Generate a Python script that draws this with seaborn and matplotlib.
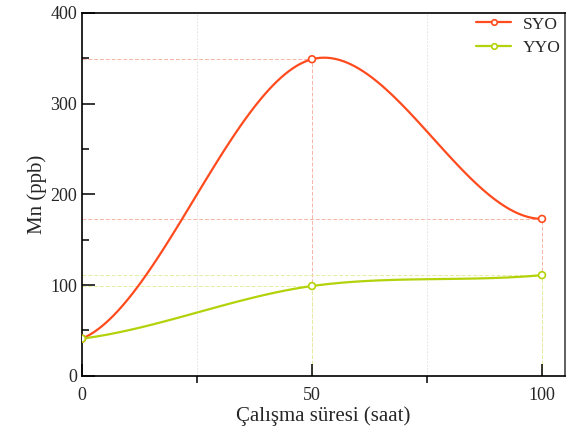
import numpy as np
import pandas as pd
import seaborn as sns
import matplotlib
matplotlib.use("Agg")
import matplotlib.pyplot as plt
from matplotlib.ticker import MultipleLocator

# measured values
hours = [0, 50, 100]
syo = [41, 349, 173]
yyo = [41, 99, 111]
series_names = ["SYO", "YYO"]
colors = {"SYO": "#FF4B1E", "YYO": "#B4D20A"}
drop_colors = {"SYO": "#F7B3A6", "YYO": "#E4EEA0"}


def smooth(x, y, n=60):
    # cubic hermite curve through the points (like origin spline connect)
    x = np.asarray(x, float)
    y = np.asarray(y, float)
    sec = np.diff(y) / np.diff(x)
    m = np.zeros_like(y)
    m[1:-1] = (y[2:] - y[:-2]) / (x[2:] - x[:-2])
    m[0] = 0.22 * sec[0] + 0.58 * m[1]
    m[-1] = 0.22 * sec[-1] + 0.58 * m[-2]
    xs, ys = [], []
    for i in range(len(x) - 1):
        h = x[i + 1] - x[i]
        t = np.linspace(0, 1, n)
        h00 = 2 * t**3 - 3 * t**2 + 1
        h10 = t**3 - 2 * t**2 + t
        h01 = -2 * t**3 + 3 * t**2
        h11 = t**3 - t**2
        xs.append(x[i] + t * h)
        ys.append(h00 * y[i] + h10 * h * m[i] + h01 * y[i + 1] + h11 * h * m[i + 1])
    return np.concatenate(xs), np.concatenate(ys)


df = pd.DataFrame({"hours": hours, "SYO": syo, "YYO": yyo})
long_df = df.melt(id_vars="hours", var_name="series", value_name="mn")

sns.set_style("ticks")
plt.rcParams["font.family"] = ["Liberation Serif", "DejaVu Serif"]

fig, ax = plt.subplots(figsize=(5.71, 4.32), dpi=100)
fig.subplots_adjust(left=0.1436, right=0.9895, top=0.97, bottom=0.13)

# drop lines to the axes
for name in series_names:
    for xv, yv in zip(df["hours"], df[name]):
        if xv == 0:
            continue
        ax.plot([0, xv], [yv, yv], ls=(0, (4, 2)), lw=0.7, color=drop_colors[name], zorder=0.5)
        ax.plot([xv, xv], [0, yv], ls=(0, (4, 2)), lw=0.7, color=drop_colors[name], zorder=0.5)

for name in series_names:
    xs, ys = smooth(df["hours"], df[name])
    sns.lineplot(x=xs, y=ys, ax=ax, color=colors[name], lw=1.6, zorder=3)

sns.scatterplot(data=long_df, x="hours", y="mn", hue="series", palette=colors,
                ax=ax, s=24, marker="o", linewidth=1.2, legend=False, zorder=4)
for coll in ax.collections:
    coll.set_facecolor("white")
    coll.set_edgecolor([colors[s] for s in long_df["series"]])

# legend handles
handles = [plt.Line2D([], [], color=colors[n], lw=1.6, marker="o", ms=4,
                      mfc="white", mec=colors[n], mew=1.2) for n in series_names]
ax.legend(handles, series_names, loc="upper right", bbox_to_anchor=(1.008, 1.012),
          frameon=False, fontsize=12.5, handlelength=2.0, handletextpad=0.7,
          borderaxespad=0.05, labelspacing=0.4)

ax.set_xlim(0, 105)
ax.set_ylim(0, 400)
ax.xaxis.set_major_locator(MultipleLocator(50))
ax.xaxis.set_minor_locator(MultipleLocator(25))
ax.yaxis.set_major_locator(MultipleLocator(100))
ax.yaxis.set_minor_locator(MultipleLocator(50))
ax.tick_params(axis="both", which="both", color="black", width=1.1)
ax.tick_params(axis="both", which="major", direction="in", length=9, labelsize=13)
ax.tick_params(axis="y", which="minor", direction="in", length=5)
ax.tick_params(axis="x", which="minor", direction="out", length=5)
ax.tick_params(axis="x", which="major", pad=8)
ax.grid(axis="x", which="minor", color="#DDDDDD", lw=0.6, ls=(0, (2, 2)))

for sp in ax.spines.values():
    sp.set_visible(True)
    sp.set_color("black")
    sp.set_linewidth(1.2)
ax.spines["right"].set_color("#444444")

ax.set_xlabel("Çalışma süresi (saat)", fontsize=15, labelpad=2)
ax.set_ylabel("Mn (ppb)", fontsize=15, labelpad=2)

fig.savefig("out.png", dpi=100)
